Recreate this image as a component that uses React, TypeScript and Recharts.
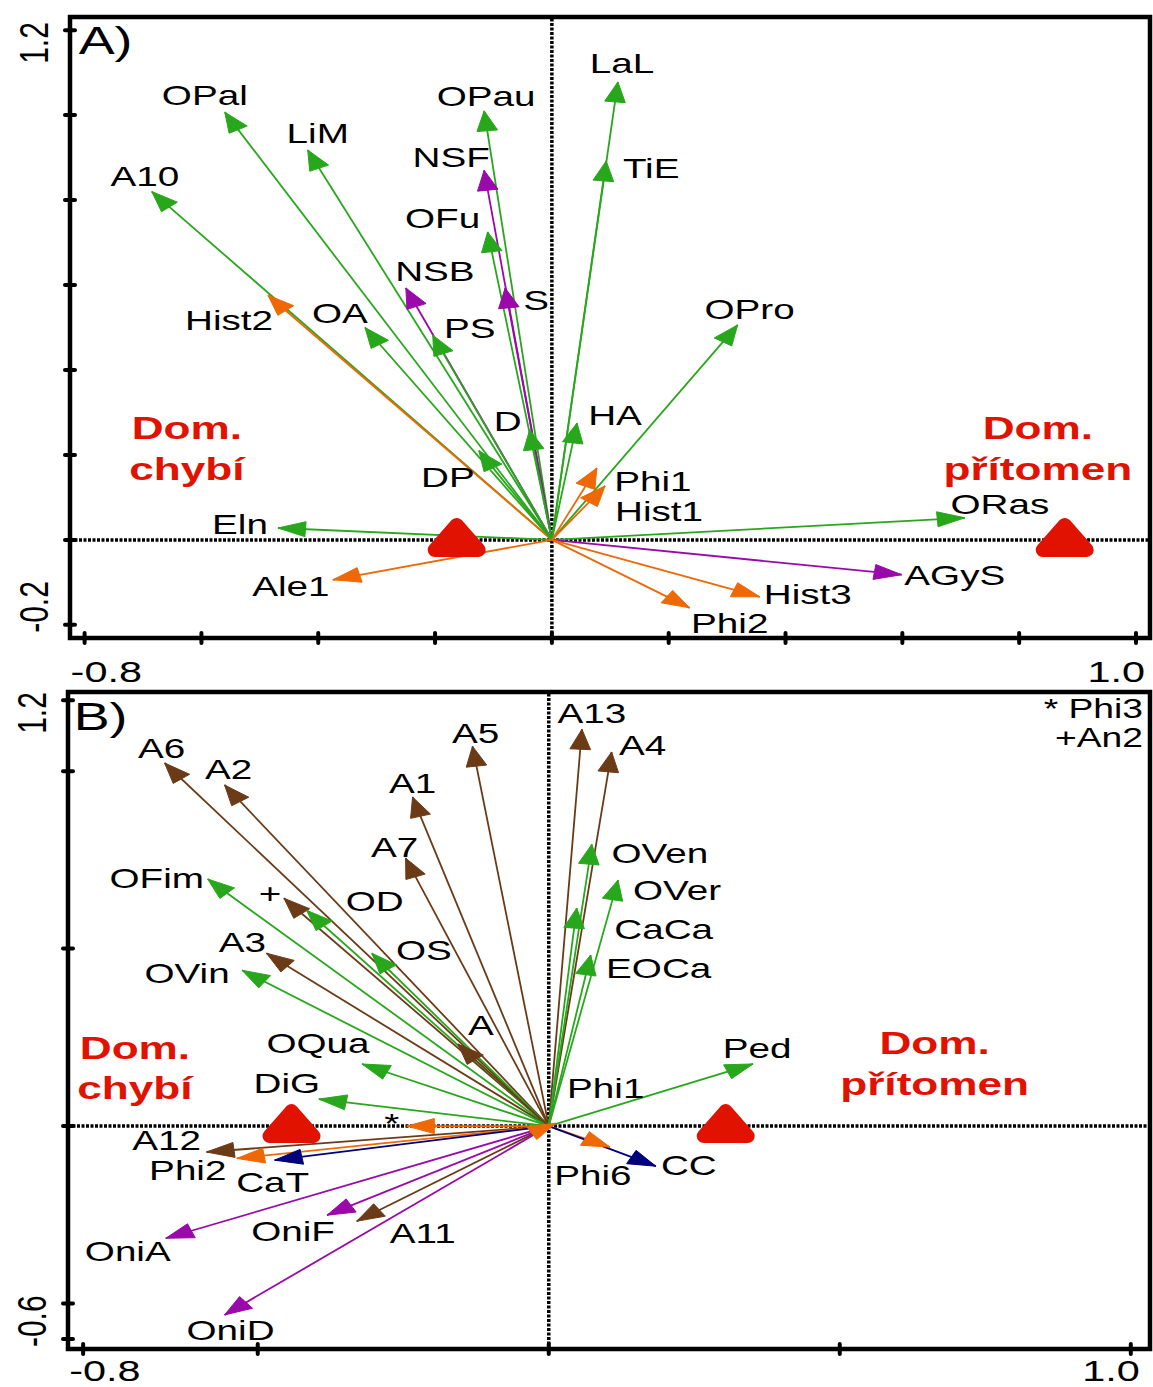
import React from "react";
import {
  ComposedChart,
  Line,
  Scatter,
  XAxis,
  YAxis,
  ReferenceLine,
  ReferenceArea,
  ReferenceDot,
} from "recharts";

const FONT = "'Liberation Sans', Arial, Helvetica, sans-serif";
// the original figure is stretched horizontally, text and arrow heads too
const STRETCH = 1.38;

const COLORS: Record<string, string> = {
  env: "#28a71c",
  nsp: "#9a09a9",
  phi: "#ee6806",
  arch: "#6b3b17",
  cat: "#00007c",
};
const RED = "#e11200";

// ---- panel A ----
const namesA = ["A10", "OPal", "LiM", "OPau", "NSF", "OFu", "NSB", "S", "PS", "OA", "Hist2", "D", "DP", "Eln", "Ale1", "LaL", "TiE", "OPro", "HA", "Phi1", "Hist1", "ORas", "AGyS", "Hist3", "Phi2"];
const xA = [-0.685, -0.56, -0.418, -0.116, -0.116, -0.11, -0.25, -0.08, -0.204, -0.32, -0.486, -0.038, -0.125, -0.469, -0.375, 0.113, 0.093, 0.318, 0.043, 0.077, 0.091, 0.707, 0.599, 0.356, 0.236];
const yA = [0.82, 1.007, 0.918, 1.01, 0.87, 0.725, 0.593, 0.593, 0.482, 0.5, 0.576, 0.259, 0.21, 0.028, -0.094, 1.078, 0.892, 0.506, 0.275, 0.169, 0.127, 0.052, -0.082, -0.134, -0.16];
const groupA = ["env", "env", "env", "env", "nsp", "env", "nsp", "nsp", "env", "env", "phi", "env", "env", "env", "phi", "env", "env", "env", "env", "phi", "phi", "env", "nsp", "phi", "phi"];
const centroidXA = [-0.163, 0.878];
const xTicksA = [-0.8, -0.6, -0.4, -0.2, 0, 0.2, 0.4, 0.6, 0.8, 1.0];
const yTicksA = [-0.2, 0, 0.2, 0.4, 0.6, 0.8, 1.0, 1.2];

// ---- panel B ----
const namesB = ["A6", "A2", "A5", "A1", "A7", "A13", "A4", "OVen", "OVer", "CaCa", "EOCa", "OFim", "+", "OD", "A3", "OS", "OVin", "A", "OQua", "DiG", "Ped", "Phi1", "*", "A12", "Phi2", "CaT", "Phi6", "CC", "OniA", "OniF", "A11", "OniD"];
const xB = [-0.66, -0.557, -0.131, -0.234, -0.246, 0.057, 0.108, 0.074, 0.119, 0.048, 0.072, -0.586, -0.455, -0.416, -0.485, -0.304, -0.527, -0.156, -0.321, -0.395, 0.351, 0.012, -0.244, -0.588, -0.536, -0.471, 0.105, 0.184, -0.658, -0.381, -0.33, -0.557];
const yB = [1.023, 0.961, 1.07, 0.927, 0.755, 1.118, 1.054, 0.794, 0.693, 0.614, 0.482, 0.696, 0.642, 0.608, 0.487, 0.487, 0.439, 0.231, 0.175, 0.076, 0.175, 0.008, 0.0, -0.073, -0.091, -0.096, -0.059, -0.113, -0.316, -0.251, -0.268, -0.532];
const groupB = ["arch", "arch", "arch", "arch", "arch", "arch", "arch", "env", "env", "env", "env", "env", "arch", "env", "arch", "env", "env", "arch", "env", "env", "env", "phi", "phi", "arch", "phi", "cat", "phi", "cat", "nsp", "nsp", "arch", "nsp"];
const centroidXB = [-0.442, 0.304];
const xTicksB = [-0.8, -0.5, 0, 0.5, 1.0];
const yTicksB = [-0.6, -0.5, 0, 0.5, 1.0, 1.2];

// label placement (pixels from arrow tip to text centre)
const labelOffA: Record<string, number[]> = {
  OPal: [-20, -17], LiM: [10, -17], A10: [-7, -15], OPau: [2, -15], NSF: [-33, -13],
  OFu: [-45, -14], NSB: [29, -17], S: [31, 12], PS: [37, -7], OA: [-25, -14],
  Hist2: [-39, 25], D: [-22, -9], DP: [-31, 27], Eln: [-38, -4], Ale1: [-42, 6],
  LaL: [4, -19], TiE: [45, 7], OPro: [12, -16], HA: [38, -8], Phi1: [56, 13],
  Hist1: [54, 25], ORas: [35, -14], AGyS: [53, 0], Hist3: [48, -3], Phi2: [40, 15],
};
const labelOffB: Record<string, number[]> = {
  A6: [-3, -15], A2: [4, -16], A5: [3, -13], A1: [0, -14], A7: [-11, -11],
  A13: [10, -16], A4: [31, -7], OVen: [68, 9], OVer: [59, 10], CaCa: [87, 21],
  EOCa: [68, 13], OFim: [-51, -1], "+": [-14, -5], OD: [68, -9], A3: [-24, -11],
  OS: [52, -3], OVin: [-55, 3], A: [23, -19], OQua: [-44, -21], DiG: [-32, -16],
  Ped: [4, -16], Phi1: [50, -35], "*": [-15, -3], A12: [-40, -12], Phi2: [-49, 12],
  CaT: [-2, 22], Phi6: [-17, 28], CC: [33, -1], OniA: [-38, 13], OniF: [-34, 16],
  A11: [66, 12], OniD: [6, 15],
};

interface Note {
  x: number;
  y: number;
  lines: string[];
  color: string;
  size: number;
  bold?: boolean;
  anchor?: "start" | "middle" | "end";
  gap?: number;
}

const notesA: Note[] = [
  { x: -0.764, y: 1.176, lines: ["A)"], color: "#000", size: 39 },
  { x: -0.625, y: 0.264, lines: ["Dom.", "chybí"], color: RED, size: 32, bold: true, gap: 41 },
  { x: 0.832, y: 0.264, lines: ["Dom.", "přítomen"], color: RED, size: 32, bold: true, gap: 41 },
];
const notesB: Note[] = [
  { x: -0.77, y: 1.155, lines: ["B)"], color: "#000", size: 39 },
  { x: -0.711, y: 0.22, lines: ["Dom.", "chybí"], color: RED, size: 32, bold: true, gap: 40 },
  { x: 0.663, y: 0.234, lines: ["Dom.", "přítomen"], color: RED, size: 32, bold: true, gap: 41 },
  { x: 1.021, y: 1.175, lines: ["* Phi3", "+An2"], color: "#000", size: 27, anchor: "end", gap: 29 },
];

function stretchedText(x: number, y: number, t: string, size: number, extra: any = {}) {
  return (
    <text
      transform={`translate(${x},${y}) scale(${STRETCH},1)`}
      textAnchor="middle"
      dy="0.35em"
      fontSize={size}
      fontFamily={FONT}
      fill="#000"
      {...extra}
    >
      {t}
    </text>
  );
}

function makeTip(color: string, offsets: Record<string, number[]>, kx: number, ky: number) {
  return (p: any) => {
    const { cx, cy, index, payload, points } = p;
    if (index !== 1 || cx == null || cy == null) return <g key={`e${index}`} />;
    let dx: number;
    let dy: number;
    if (points && points.length > 1) {
      dx = points[1].x - points[0].x;
      dy = points[1].y - points[0].y;
    } else {
      dx = payload.x * kx;
      dy = -payload.y * ky;
    }
    const ux = dx / STRETCH;
    const len = Math.hypot(ux, dy) || 1;
    const c = ux / len;
    const s = dy / len;
    const L = 20;
    const W = 7.5;
    const bx = -L * c;
    const by = -L * s;
    const p1 = [(bx - W * s) * STRETCH, by + W * c];
    const p2 = [(bx + W * s) * STRETCH, by - W * c];
    const off = offsets[payload.name] || [0, 0];
    return (
      <g key={`tip-${payload.name}`}>
        <polygon
          points={`${cx},${cy} ${cx + p1[0]},${cy + p1[1]} ${cx + p2[0]},${cy + p2[1]}`}
          fill={color}
          stroke={color}
          strokeWidth={1}
          strokeLinejoin="round"
        />
        {stretchedText(cx + off[0], cy + off[1], payload.name, 28)}
      </g>
    );
  };
}

const TriangleShape = (p: any) => {
  const { cx, cy } = p;
  return (
    <polygon
      points={`${cx},${cy - 15} ${cx - 22},${cy + 10} ${cx + 22},${cy + 10}`}
      fill={RED}
      stroke={RED}
      strokeWidth={14}
      strokeLinejoin="round"
    />
  );
};

// thick dotted zero lines
const DottedShape = (p: any) => (
  <line
    x1={p.x1}
    y1={p.y1}
    x2={p.x2}
    y2={p.y2}
    stroke="#000"
    strokeWidth={3.5}
    strokeDasharray="3 1.5"
  />
);

function XTick(props: any) {
  const { x, y, payload, first, last, drop } = props;
  const v = payload.value;
  return (
    <g>
      <line x1={x} x2={x} y1={y - 5} y2={y + 5} stroke="#000" strokeWidth={4} strokeLinecap="round" />
      {v === first && stretchedText(x - 14, y + drop, v.toFixed(1), 30, { textAnchor: "start", dy: 0 })}
      {v === last && stretchedText(x + 9, y + drop, v.toFixed(1), 30, { textAnchor: "end", dy: 0 })}
    </g>
  );
}

function YTick(props: any) {
  const { x, y, payload, first, last } = props;
  const v = payload.value;
  const rot = (yy: number, anchor: string) => (
    <text
      transform={`translate(${x - 22},${yy}) scale(${STRETCH},1) rotate(-90)`}
      textAnchor={anchor}
      fontSize={30}
      fontFamily={FONT}
      fill="#000"
    >
      {v.toFixed(1)}
    </text>
  );
  return (
    <g>
      <line x1={x - 5} x2={x + 5} y1={y} y2={y} stroke="#000" strokeWidth={4} strokeLinecap="round" />
      {v === last && rot(y - 8, "end")}
      {v === first && rot(y + 8, "start")}
    </g>
  );
}

interface PanelProps {
  names: string[];
  xs: number[];
  ys: number[];
  groups: string[];
  offsets: Record<string, number[]>;
  centroidX: number[];
  xDomain: [number, number];
  yDomain: [number, number];
  xTicks: number[];
  yTicks: number[];
  notes: Note[];
  height: number;
  top: number;
  left: number;
  bottom: number;
  drop: number;
}

function Panel(props: PanelProps) {
  const { names, xs, ys, groups, offsets, centroidX, xDomain, yDomain, xTicks, yTicks, notes, height, top, left, bottom, drop } = props;
  const width = 1153;
  const right = 3;
  const kx = (width - left - right) / (xDomain[1] - xDomain[0]);
  const ky = (height - top - bottom) / (yDomain[1] - yDomain[0]);
  const centroids = centroidX.map((x) => ({ x, y: 0 }));

  return (
    <ComposedChart width={width} height={height} margin={{ top, right, bottom: 0, left: 0 }}>
      <XAxis
        type="number"
        dataKey="x"
        domain={xDomain}
        ticks={xTicks}
        interval={0}
        height={bottom}
        axisLine={false}
        tickLine={false}
        tickSize={0}
        tickMargin={0}
        tick={(p: any) => <XTick {...p} first={xTicks[0]} last={xTicks[xTicks.length - 1]} drop={drop} />}
      />
      <YAxis
        type="number"
        dataKey="y"
        domain={yDomain}
        ticks={yTicks}
        interval={0}
        width={left}
        axisLine={false}
        tickLine={false}
        tickSize={0}
        tickMargin={0}
        tick={(p: any) => <YTick {...p} first={yTicks[0]} last={yTicks[yTicks.length - 1]} />}
      />
      <ReferenceArea
        x1={xDomain[0]}
        x2={xDomain[1]}
        y1={yDomain[0]}
        y2={yDomain[1]}
        fill="none"
        fillOpacity={0}
        stroke="#000"
        strokeWidth={4.5}
        ifOverflow="visible"
      />
      <ReferenceLine x={0} stroke="#000" strokeWidth={3.5} strokeDasharray="3 1.5" shape={DottedShape} />
      <ReferenceLine y={0} stroke="#000" strokeWidth={3.5} strokeDasharray="3 1.5" shape={DottedShape} />
      {names.map((name, i) => (
        <Line
          key={`${name}-${i}`}
          data={[{ x: 0, y: 0 }, { x: xs[i], y: ys[i], name }]}
          dataKey="y"
          type="linear"
          stroke={COLORS[groups[i]]}
          strokeWidth={1.8}
          dot={makeTip(COLORS[groups[i]], offsets, kx, ky)}
          activeDot={false}
          legendType="none"
          isAnimationActive={false}
        />
      ))}
      <Scatter data={centroids} shape={TriangleShape} isAnimationActive={false} legendType="none" />
      {notes.map((n, i) => (
        <ReferenceDot
          key={`note-${i}`}
          x={n.x}
          y={n.y}
          r={1}
          ifOverflow="visible"
          shape={(p: any) => (
            <g>
              {n.lines.map((t, j) =>
                stretchedText(p.cx, p.cy + j * (n.gap || 0), t, n.size, {
                  key: j,
                  fill: n.color,
                  fontWeight: n.bold ? 700 : 400,
                  textAnchor: n.anchor || "middle",
                })
              )}
            </g>
          )}
        />
      ))}
    </ComposedChart>
  );
}

export default function App() {
  return (
    <div style={{ position: "absolute", left: 0, top: 0, width: 1153, height: 1387, background: "#fff" }}>
      <div style={{ position: "absolute", left: 0, top: 0 }}>
        <Panel
          names={namesA}
          xs={xA}
          ys={yA}
          groups={groupA}
          offsets={labelOffA}
          centroidX={centroidXA}
          xDomain={[-0.825, 1.024]}
          yDomain={[-0.231, 1.231]}
          xTicks={xTicksA}
          yTicks={yTicksA}
          notes={notesA}
          height={690}
          top={17}
          left={70}
          bottom={52}
          drop={44}
        />
      </div>
      <div style={{ position: "absolute", left: 0, top: 680 }}>
        <Panel
          names={namesB}
          xs={xB}
          ys={yB}
          groups={groupB}
          offsets={labelOffB}
          centroidX={centroidXB}
          xDomain={[-0.826, 1.033]}
          yDomain={[-0.628, 1.223]}
          xTicks={xTicksB}
          yTicks={yTicksB}
          notes={notesB}
          height={707}
          top={12}
          left={68}
          bottom={38}
          drop={32}
        />
      </div>
    </div>
  );
}
